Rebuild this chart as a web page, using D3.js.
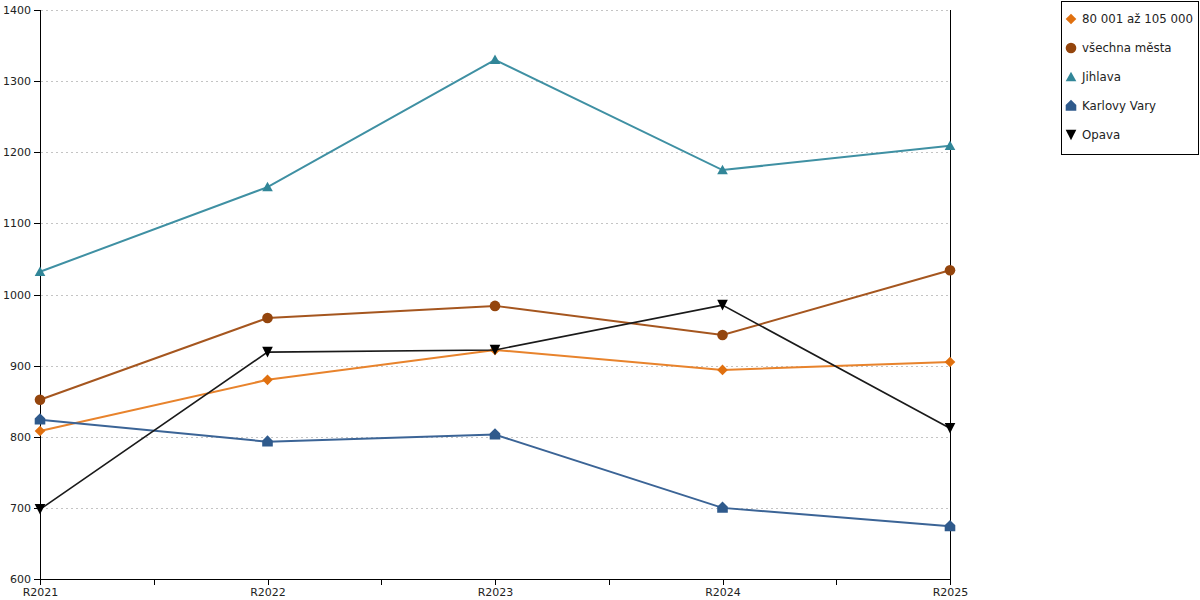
<!DOCTYPE html>
<meta charset="utf-8" />
<script src="https://d3js.org/d3.v7.min.js"></script>
<style>
    body { margin: 0; background: #fff; font-family: "DejaVu Sans", sans-serif; }
</style>
<div id="chart"></div>
<script>
    const years = ["R2021", "R2022", "R2023", "R2024", "R2025"];
    const yTicks = [600, 700, 800, 900, 1000, 1100, 1200, 1300, 1400];

    const seriesNames = ["80 001 až 105 000", "všechna města", "Jihlava", "Karlovy Vary", "Opava"];
    const valsGroup = [808, 880, 922, 894, 905];
    const valsAll = [852, 967, 984, 943, 1034];
    const valsJihlava = [1032, 1151, 1330, 1175, 1209];
    const valsKarlovy = [824, 793, 803, 700, 674];
    const valsOpava = [698, 919, 922, 985, 812];

    const lineColors = ["#e8832c", "#a5561f", "#3f90a3", "#3b6496", "#1a1a1a"];
    const markColors = ["#e0700f", "#94450d", "#318698", "#2f5a8c", "#000000"];

    const width = 1200, height = 600;
    const plotLeft = 40, plotRight = 950, plotTop = 10, plotBottom = 579;

    const svg = d3.select("#chart").append("svg")
        .attr("width", width)
        .attr("height", height);

    const x = d3.scalePoint().domain(years).range([plotLeft, plotRight]);
    const y = d3.scaleLinear().domain([600, 1400]).range([plotBottom, plotTop]);

    // marker shapes (r = half size)
    const shapes = [
        { draw(c, r) { c.moveTo(0, -r); c.lineTo(r, 0); c.lineTo(0, r); c.lineTo(-r, 0); c.closePath(); } },
        { draw(c, r) { c.moveTo(r, 0); c.arc(0, 0, r, 0, 2 * Math.PI); } },
        { draw(c, r) { c.moveTo(0, -r); c.lineTo(r, r * 0.8); c.lineTo(-r, r * 0.8); c.closePath(); } },
        { draw(c, r) { c.moveTo(0, -r * 1.2); c.lineTo(r, -r * 0.2); c.lineTo(r, r * 0.9); c.lineTo(-r, r * 0.9); c.lineTo(-r, -r * 0.2); c.closePath(); } },
        { draw(c, r) { c.moveTo(-r, -r); c.lineTo(r, -r); c.lineTo(0, r); c.closePath(); } }
    ];

    // gridlines
    svg.append("g")
        .selectAll("line")
        .data(yTicks.slice(1))
        .join("line")
        .attr("x1", plotLeft + 1).attr("x2", plotRight - 2)
        .attr("y1", d => Math.round(y(d)) + 0.5).attr("y2", d => Math.round(y(d)) + 0.5)
        .attr("stroke", "#c4c4c4")
        .attr("stroke-dasharray", "2,3")
        .attr("shape-rendering", "crispEdges");

    // y axis
    svg.append("g")
        .attr("transform", `translate(${plotLeft},0)`)
        .attr("shape-rendering", "crispEdges")
        .call(d3.axisLeft(y).tickValues(yTicks).tickSize(6).tickPadding(3).tickFormat(d3.format("d")))
        .call(g => g.selectAll("text").attr("font-size", "11px").attr("font-family", "DejaVu Sans").attr("fill", "#222"))
        .call(g => g.selectAll("line, path").attr("stroke", "#000"));

    // x axis
    svg.append("g")
        .attr("transform", `translate(0,${plotBottom})`)
        .attr("shape-rendering", "crispEdges")
        .call(d3.axisBottom(x).tickSize(6).tickSizeOuter(0).tickPadding(3))
        .call(g => g.selectAll("text").attr("font-size", "11px").attr("font-family", "DejaVu Sans").attr("fill", "#222"))
        .call(g => g.selectAll("line, path").attr("stroke", "#000"));

    // minor ticks between categories
    const mids = d3.pairs(years).map(([a, b]) => (x(a) + x(b)) / 2);
    svg.append("g")
        .attr("shape-rendering", "crispEdges")
        .selectAll("line")
        .data(mids)
        .join("line")
        .attr("x1", d => d + 0.5).attr("x2", d => d + 0.5)
        .attr("y1", plotBottom).attr("y2", plotBottom + 6)
        .attr("stroke", "#000");

    // right edge line
    svg.append("line")
        .attr("x1", x(years[years.length - 1]) + 0.5).attr("x2", x(years[years.length - 1]) + 0.5)
        .attr("y1", plotTop).attr("y2", plotBottom)
        .attr("shape-rendering", "crispEdges")
        .attr("stroke", "#000");

    const allVals = [valsGroup, valsAll, valsJihlava, valsKarlovy, valsOpava];
    const line = d3.line().x((d, i) => x(years[i])).y(d => y(d));

    allVals.forEach((vals, s) => {
        svg.append("path")
            .datum(vals)
            .attr("d", line)
            .attr("fill", "none")
            .attr("stroke", lineColors[s])
            .attr("stroke-width", s === 4 ? 1.6 : 2);

        svg.append("g")
            .selectAll("path")
            .data(vals)
            .join("path")
            .attr("transform", (d, i) => `translate(${x(years[i])},${y(d)})`)
            .attr("d", d3.symbol().type(shapes[s]).size(5.3))
            .attr("fill", markColors[s]);
    });

    // legend
    const legend = svg.append("g");
    legend.append("rect")
        .attr("x", 1061.5).attr("y", 1.5)
        .attr("width", 137).attr("height", 153)
        .attr("fill", "#fff").attr("stroke", "#000");

    seriesNames.forEach((name, s) => {
        const cy = 19 + s * 29;
        legend.append("path")
            .attr("transform", `translate(1071,${cy})`)
            .attr("d", d3.symbol().type(shapes[s]).size(5.3))
            .attr("fill", markColors[s]);
        legend.append("text")
            .attr("x", 1082).attr("y", cy)
            .attr("dy", "0.35em")
            .attr("font-size", "11.8px")
            .attr("fill", "#222")
            .text(name);
    });
</script>
